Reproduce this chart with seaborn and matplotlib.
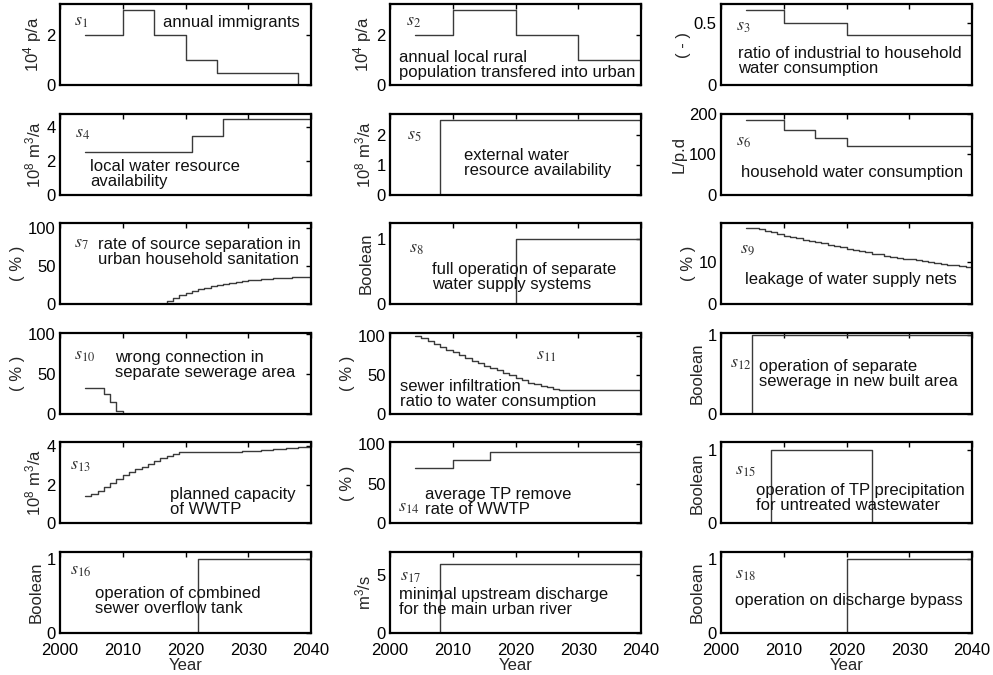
import numpy as np
import pandas as pd
import matplotlib
matplotlib.use("Agg")
import matplotlib.pyplot as plt
import seaborn as sns

sns.set_theme(style="white")
plt.rcParams['font.family'] = ['Liberation Sans', 'DejaVu Sans']
plt.rcParams['mathtext.fontset'] = 'custom'
plt.rcParams['mathtext.rm'] = 'Liberation Sans'
plt.rcParams['mathtext.it'] = 'Liberation Sans:italic'
plt.rcParams['mathtext.bf'] = 'Liberation Sans:bold'

# ---------------- data ----------------
s1_x = [2004, 2010, 2015, 2020, 2025, 2038]
s1_y = [2, 3, 2, 1, 0.5, 0]
s2_x = [2004, 2010, 2020, 2030, 2040]
s2_y = [2, 3, 2, 1, 1]
s3_x = [2004, 2010, 2020, 2040]
s3_y = [0.6, 0.5, 0.4, 0.4]
s4_x = [2004, 2021, 2026, 2040]
s4_y = [2.5, 3.5, 4.5, 4.5]
s5_x = [2004, 2008, 2040]
s5_y = [0, 2.5, 2.5]
s6_x = [2004, 2010, 2015, 2020, 2040]
s6_y = [185, 160, 140, 120, 120]
s7_x = list(range(2004, 2041))
s7_y = [0]*13 + [4, 8, 12, 15, 18, 20, 22, 24, 26, 27, 28.5, 29.5, 30.5, 31.5, 32,
                 33, 33.5, 34, 34.5, 35, 35.5, 36, 36.5, 37]
s8_x = [2004, 2020, 2040]
s8_y = [0, 1, 1]
s9_x = list(range(2004, 2041))
s9_y = [18, 18, 17.8, 17.4, 17.0, 16.6, 16.2, 15.9, 15.6, 15.3, 15.0, 14.7, 14.4,
        14.1, 13.8, 13.5, 13.2, 12.9, 12.6, 12.3, 12.0, 11.8, 11.5, 11.3, 11.0,
        10.8, 10.6, 10.4, 10.2, 10.0, 9.8, 9.6, 9.4, 9.2, 9.0, 8.9, 8.8]
s10_x = [2004, 2007, 2008, 2009, 2010]
s10_y = [33, 25, 15, 3, 0]
s11_x = list(range(2004, 2029)) + [2040]
s11_y = [100, 97, 93, 89, 86, 82, 79, 75, 72, 68, 65, 62, 59, 56, 53, 50, 46, 43,
         40, 38, 36, 34, 32, 31, 30, 30]
s12_x = [2004, 2005, 2040]
s12_y = [0, 1, 1]
s13_x = list(range(2004, 2041))
s13_y = [1.4, 1.5, 1.7, 1.9, 2.1, 2.3, 2.5, 2.65, 2.8, 2.95, 3.1, 3.25, 3.4, 3.5,
         3.6, 3.7, 3.7, 3.7, 3.7, 3.7, 3.7, 3.7, 3.7, 3.7, 3.72, 3.74, 3.76, 3.78,
         3.8, 3.82, 3.85, 3.87, 3.9, 3.92, 3.95, 3.98, 4.0]
s14_x = [2004, 2010, 2016, 2040]
s14_y = [70, 80, 90, 90]
s15_x = [2004, 2008, 2024, 2040]
s15_y = [0, 1, 0, 0]
s16_x = [2004, 2022, 2040]
s16_y = [0, 1, 1]
s17_x = [2004, 2008, 2040]
s17_y = [0, 6, 6]
s18_x = [2004, 2020, 2040]
s18_y = [0, 1, 1]

xticks = [2000, 2010, 2020, 2030, 2040]

panels = [
    # x, y, ylabel, ylim top, yticks, description, (dx,dy), (sx,sy)
    (s1_x, s1_y, r'10$^4$ p/a', 3.25, [0, 2], 'annual immigrants', (0.41, 0.77), (0.056, 0.78)),
    (s2_x, s2_y, r'10$^4$ p/a', 3.25, [0, 2], 'annual local rural\npopulation transfered into urban', (0.036, 0.25), (0.064, 0.78)),
    (s3_x, s3_y, '( - )', 0.65, [0, 0.5], 'ratio of industrial to household\nwater consumption', (0.068, 0.30), (0.06, 0.72)),
    (s4_x, s4_y, r'10$^8$ m$^3$/a', 4.8, [0, 2, 4], 'local water resource\navailability', (0.12, 0.26), (0.06, 0.76)),
    (s5_x, s5_y, r'10$^8$ m$^3$/a', 2.7, [0, 1, 2], 'external water\nresource availability', (0.295, 0.39), (0.068, 0.73)),
    (s6_x, s6_y, 'L/p.d', 200, [0, 100, 200], 'household water consumption', (0.08, 0.27), (0.06, 0.65)),
    (s7_x, s7_y, '( % )', 107, [0, 50, 100], 'rate of source separation in\nurban household sanitation', (0.15, 0.64), (0.056, 0.75)),
    (s8_x, s8_y, 'Boolean', 1.25, [0, 1], 'full operation of separate\nwater supply systems', (0.167, 0.33), (0.076, 0.69)),
    (s9_x, s9_y, '( % )', 19.2, [0, 10], 'leakage of water supply nets', (0.096, 0.30), (0.076, 0.69)),
    (s10_x, s10_y, '( % )', 102, [0, 50, 100], 'wrong connection in\nseparate sewerage area', (0.22, 0.60), (0.056, 0.72)),
    (s11_x, s11_y, '( % )', 104, [0, 50, 100], 'sewer infiltration\nratio to water consumption', (0.04, 0.24), (0.58, 0.72)),
    (s12_x, s12_y, 'Boolean', 1.03, [0, 1], 'operation of separate\nsewerage in new built area', (0.15, 0.49), (0.036, 0.62)),
    (s13_x, s13_y, r'10$^8$ m$^3$/a', 4.2, [0, 2, 4], 'planned capacity\nof WWTP', (0.44, 0.27), (0.04, 0.71)),
    (s14_x, s14_y, '( % )', 102, [0, 50, 100], 'average TP remove\nrate of WWTP', (0.14, 0.27), (0.03, 0.2)),
    (s15_x, s15_y, 'Boolean', 1.1, [0, 1], 'operation of TP precipitation\nfor untreated wastewater', (0.14, 0.31), (0.056, 0.65)),
    (s16_x, s16_y, 'Boolean', 1.1, [0, 1], 'operation of combined\nsewer overflow tank', (0.14, 0.4), (0.04, 0.77)),
    (s17_x, s17_y, r'm$^3$/s', 7, [0, 5], 'minimal upstream discharge\nfor the main urban river', (0.036, 0.38), (0.04, 0.7)),
    (s18_x, s18_y, 'Boolean', 1.1, [0, 1], 'operation on discharge bypass', (0.056, 0.4), (0.056, 0.72)),
]

W, H = 993, 675
fig = plt.figure(figsize=(9.93, 6.75), dpi=100)
col_left = [60, 390, 721]
row_top = [4, 113.6, 223.2, 332.8, 442.4, 552]
aw, ah = 251, 81

for i, (x, y, ylab, ytop, yt, descr, dpos, spos) in enumerate(panels):
    r, c = divmod(i, 3)
    ax = fig.add_axes([col_left[c] / W, 1 - (row_top[r] + ah) / H, aw / W, ah / H])
    df = pd.DataFrame({'Year': x, 'v': y})
    sns.lineplot(data=df, x='Year', y='v', ax=ax, drawstyle='steps-post',
                 color='#3a3a3a', linewidth=1.0, estimator=None, sort=False)
    ax.set_xlim(2000, 2040)
    ax.set_ylim(0, ytop)
    ax.set_xticks(xticks)
    ax.set_yticks(yt)
    ax.set_yticklabels([('%g' % t) for t in yt])
    ax.tick_params(direction='in', top=True, right=True, length=3.5, width=1,
                   labelsize=12, colors='black')
    ax.tick_params(axis='x', pad=7)
    ax.tick_params(axis='y', pad=3)
    for sp in ax.spines.values():
        sp.set_linewidth(1.6)
        sp.set_color('black')
    ax.set_ylabel(ylab, fontsize=12, labelpad=2)
    if r == 5:
        ax.set_xticklabels([str(t) for t in xticks])
        ax.set_xlabel('Year', fontsize=12, labelpad=0)
    else:
        ax.set_xticklabels([])
        ax.set_xlabel('')
    ax.text(dpos[0], dpos[1], descr, transform=ax.transAxes, fontsize=12,
            ha='left', va='center', linespacing=1.0, color='#111111')
    ax.text(spos[0], spos[1], r'$\mathit{s_{%d}}$' % (i + 1), transform=ax.transAxes,
            fontsize=13, ha='left', va='center', color='#333333', math_fontfamily='stix')

fig.savefig('out.png', dpi=100)
